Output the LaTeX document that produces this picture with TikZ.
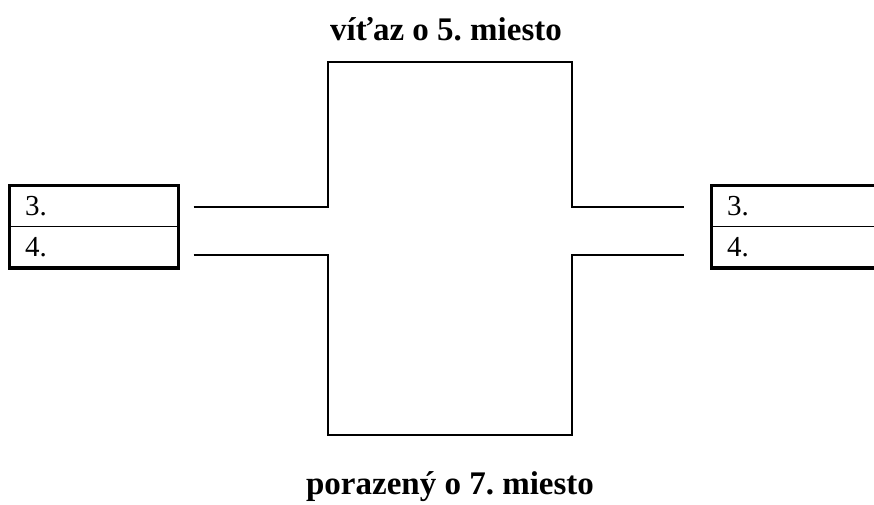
\documentclass[tikz,border=0pt]{standalone}
\usepackage{fontspec}
\setmainfont{Liberation Serif}
\frenchspacing

\begin{document}
\begin{tikzpicture}[
    x=1pt, y=-1pt,
    cell/.style={rectangle, draw, line width=1.3pt, minimum height=40.5pt, text width=138pt, inner xsep=15pt, inner ysep=0pt, align=left, font=\fontsize{29}{32}\selectfont},
    frame/.style={line width=3.5pt},
    wire/.style={line width=2pt},
    title/.style={font=\fontsize{33}{36}\selectfont\bfseries, anchor=base}
]
\useasboundingbox (0,0) rectangle (874,504);
\node[title] (win) at (446, 40) {víťaz o 5. miesto};
\node[title] (lose) at (450, 494) {porazený o 7. miesto};
\node[cell] (l3) at (94, 206.5) {3.};
\node[cell] (l4) at (94, 247) {4.};
\node[cell] (r3) at (796, 206.5) {3.};
\node[cell] (r4) at (796, 247) {4.};
\draw[frame] (l3.north west) rectangle (l4.south east);
\draw[frame] (r3.north west) rectangle (r4.south east);
\coordinate (tl) at (328, 62);
\coordinate (tr) at (572, 62);
\coordinate (bl) at (328, 435);
\coordinate (br) at (572, 435);
\draw[wire] ([xshift=15pt]l3.east) -| (tl) -- (tr) |- ([xshift=-27pt]r3.west);
\draw[wire] ([shift={(15,8)}]l4.east) -| (bl) -- (br) |- ([shift={(-27,8)}]r4.west);
\end{tikzpicture}
\end{document}
